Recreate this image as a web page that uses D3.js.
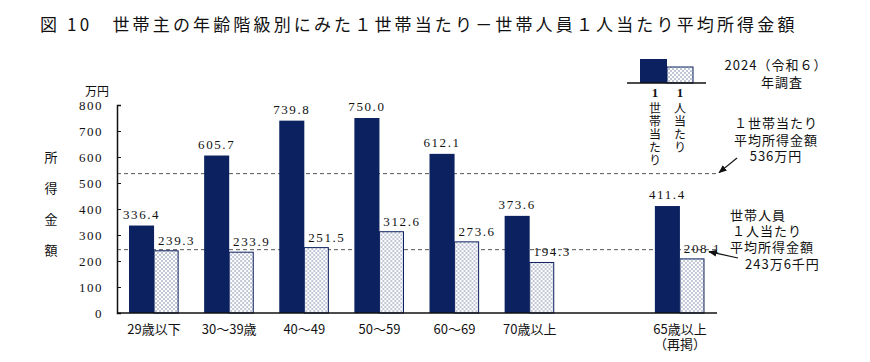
<!DOCTYPE html>
<html>
<head>
<meta charset="utf-8">
<script src="https://cdn.jsdelivr.net/npm/d3@7"></script>
<style>
  body { margin: 0; background: #fff; }
  text { font-family: "Noto Sans CJK JP", "Noto Sans", sans-serif; fill: #111; }
  .num { font-family: "Liberation Serif", "DejaVu Serif", serif; }
</style>
</head>
<body>
<div id="chart"></div>
<script>
// chart data
var categories = ["29歳以下", "30～39歳", "40～49", "50～59", "60～69", "70歳以上", "65歳以上"];
var perHousehold = [336.4, 605.7, 739.8, 750.0, 612.1, 373.6, 411.4];
var perPerson = [239.3, 233.9, 251.5, 312.6, 273.6, 194.3, 208.1];
var yTicks = [0, 100, 200, 300, 400, 500, 600, 700, 800];
var avgHousehold = 536;
var avgPerson = 243.6;

var width = 870, height = 362;
var navy = "#0c215f";

var svg = d3.select("#chart").append("svg")
    .attr("width", width)
    .attr("height", height);

// dotted fill for per-person bars
var defs = svg.append("defs");
var pat = defs.append("pattern")
    .attr("id", "dots")
    .attr("patternUnits", "userSpaceOnUse")
    .attr("width", 4)
    .attr("height", 4);
pat.append("rect").attr("width", 4).attr("height", 4).attr("fill", "#fff");
pat.append("rect").attr("x", 0.5).attr("y", 0.5).attr("width", 1).attr("height", 1).attr("fill", navy);
pat.append("rect").attr("x", 2.5).attr("y", 2.5).attr("width", 1).attr("height", 1).attr("fill", navy);

defs.append("marker")
    .attr("id", "arrow")
    .attr("viewBox", "0 0 10 10")
    .attr("refX", 9).attr("refY", 5)
    .attr("markerWidth", 7).attr("markerHeight", 7)
    .attr("orient", "auto")
  .append("path")
    .attr("d", "M0,1 L10,5 L0,9 Z")
    .attr("fill", "#111");

// multi-line text block helper
function block(x, y, lines, lh, anchor, xs) {
  var t = svg.append("text")
      .attr("x", x).attr("y", y)
      .attr("text-anchor", anchor)
      .style("font-size", "13px")
      .style("letter-spacing", "1px");
  lines.forEach(function(l, i) {
    t.append("tspan")
        .attr("x", xs ? xs[i] : x)
        .attr("dy", i === 0 ? 0 : lh)
        .text(l);
  });
  return t;
}

// slots: six groups, a gap, then the 65+ group
var slots = categories.slice(0, 6).concat(["_gap"], categories.slice(6));

var x = d3.scaleBand()
    .domain(slots)
    .range([117, 717])
    .paddingInner(0.333)
    .paddingOuter(0.16);
var xSub = d3.scaleBand()
    .domain(["household", "person"])
    .range([0, x.bandwidth()]);
var y = d3.scaleLinear().domain([0, 800]).range([313, 105]);

// title
svg.append("text")
    .attr("x", 40).attr("y", 31)
    .style("font-size", "17px")
    .style("letter-spacing", "3.15px")
    .text("図 10　世帯主の年齢階級別にみた１世帯当たり－世帯人員１人当たり平均所得金額");

// average lines
svg.selectAll(".avg")
    .data([avgHousehold, avgPerson])
  .enter().append("line")
    .attr("x1", 117).attr("x2", 717)
    .attr("y1", function(d) { return y(d); })
    .attr("y2", function(d) { return y(d); })
    .attr("stroke", "#555")
    .attr("stroke-width", 1)
    .attr("stroke-dasharray", "4,3");

// bars
var rows = categories.map(function(c, i) {
  return { cat: c, household: perHousehold[i], person: perPerson[i] };
});

var g = svg.selectAll(".grp")
    .data(rows)
  .enter().append("g")
    .attr("transform", function(d) { return "translate(" + x(d.cat) + ",0)"; });

g.append("rect")
    .attr("x", xSub("household"))
    .attr("width", xSub.bandwidth())
    .attr("y", function(d) { return y(d.household); })
    .attr("height", function(d) { return y(0) - y(d.household); })
    .attr("fill", navy);

g.append("rect")
    .attr("x", xSub("person"))
    .attr("width", xSub.bandwidth() - 1)
    .attr("y", function(d) { return y(d.person); })
    .attr("height", function(d) { return y(0) - y(d.person); })
    .attr("fill", "url(#dots)")
    .attr("stroke", navy)
    .attr("stroke-width", 1);

g.append("text")
    .attr("class", "num")
    .attr("x", xSub("household") + xSub.bandwidth() / 2)
    .attr("y", function(d) { return y(d.household) - 7; })
    .attr("text-anchor", "middle")
    .style("font-size", "13px")
    .style("letter-spacing", "1.6px")
    .text(function(d) { return d.household.toFixed(1); });

g.append("text")
    .attr("class", "num")
    .attr("x", xSub("person") + xSub.bandwidth() / 2 + 10)
    .attr("y", function(d) { return y(d.person) - 6; })
    .attr("text-anchor", "middle")
    .style("font-size", "13px")
    .style("letter-spacing", "1.6px")
    .text(function(d) { return d.person.toFixed(1); });

// axes
var yAxis = svg.append("g")
    .attr("transform", "translate(117,0)")
    .call(d3.axisLeft(y).tickValues(yTicks).tickSize(-4).tickPadding(14));
yAxis.select(".domain").attr("stroke", "#111").attr("stroke-width", 1.5);
yAxis.selectAll(".tick line").attr("stroke", "#111");
yAxis.selectAll(".tick text")
    .attr("class", "num")
    .style("font-size", "13px")
    .style("font-family", "'Liberation Serif', serif")
    .style("letter-spacing", "1.5px")
    .attr("fill", "#111");

svg.append("line")
    .attr("x1", 117).attr("x2", 717)
    .attr("y1", y(0)).attr("y2", y(0))
    .attr("stroke", "#111").attr("stroke-width", 1.5);

// category labels
svg.selectAll(".cat")
    .data(categories.slice(0, 6))
  .enter().append("text")
    .attr("x", function(d) { return x(d) + x.bandwidth() / 2; })
    .attr("y", 334)
    .attr("text-anchor", "middle")
    .style("font-size", "13px")
    .text(function(d) { return d; });
block(x("65歳以上") + x.bandwidth() / 2, 334, ["65歳以上", "（再掲）"], 15, "middle")
    .style("letter-spacing", "0px");

// y axis title
svg.append("text")
    .attr("x", 85).attr("y", 96)
    .style("font-size", "12px")
    .text("万円");
svg.selectAll(".ylab")
    .data(["所", "得", "金", "額"])
  .enter().append("text")
    .attr("x", 51)
    .attr("y", function(d, i) { return 162 + i * 31; })
    .attr("text-anchor", "middle")
    .style("font-size", "13px")
    .text(function(d) { return d; });

// legend
svg.append("rect").attr("x", 640).attr("y", 59).attr("width", 27).attr("height", 24).attr("fill", navy);
svg.append("rect").attr("x", 667).attr("y", 67).attr("width", 26).attr("height", 16)
    .attr("fill", "url(#dots)").attr("stroke", navy);
svg.append("line").attr("x1", 627).attr("x2", 706).attr("y1", 83).attr("y2", 83)
    .attr("stroke", "#111").attr("stroke-width", 1.5);

var legendCols = [
  { x: 655, text: "世帯当たり" },
  { x: 680, text: "人当たり" }
];
legendCols.forEach(function(col) {
  svg.append("text")
      .attr("class", "num")
      .attr("x", col.x)
      .attr("y", 97)
      .attr("text-anchor", "middle")
      .style("font-size", "13px")
      .style("font-weight", "bold")
      .text("1");
  svg.append("text")
      .attr("x", col.x)
      .attr("y", 102)
      .style("writing-mode", "vertical-rl")
      .style("text-orientation", "upright")
      .style("font-size", "12px")
      .style("letter-spacing", "1px")
      .attr("fill", "#333")
      .text(col.text);
});

block(776, 70, ["2024（令和６）", "年調査"], 17, "middle", [776, 782]);

// annotations
block(776, 128, ["１世帯当たり", "平均所得金額", "536万円"], 16.5, "middle");
svg.append("line")
    .attr("x1", 737).attr("y1", 158)
    .attr("x2", 719).attr("y2", y(avgHousehold) - 1)
    .attr("stroke", "#111").attr("stroke-width", 1.2)
    .attr("marker-end", "url(#arrow)");

block(730, 220, ["世帯人員", "１人当たり", "平均所得金額", "243万6千円"], 16.2, "start", [730, 732, 730, 745]);
svg.append("line")
    .attr("x1", 738).attr("y1", 258)
    .attr("x2", 709).attr("y2", y(avgPerson) + 2)
    .attr("stroke", "#111").attr("stroke-width", 1.2)
    .attr("marker-end", "url(#arrow)");
</script>
</body>
</html>
